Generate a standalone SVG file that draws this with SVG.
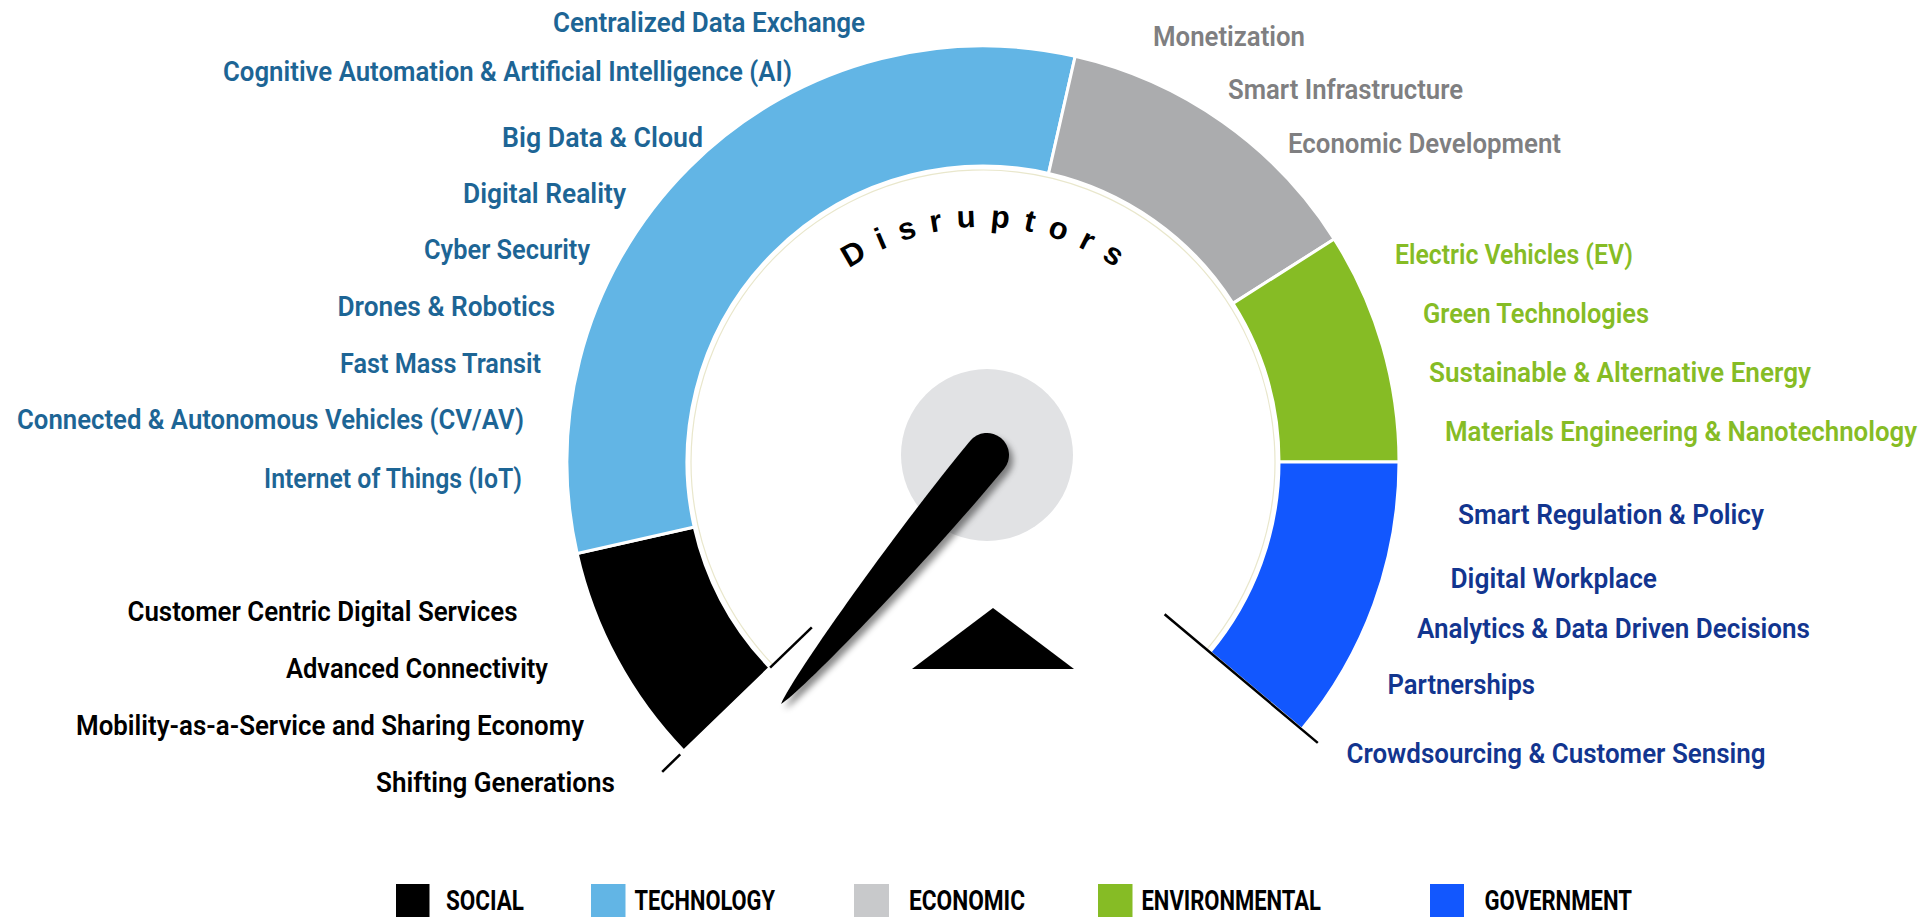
<svg xmlns="http://www.w3.org/2000/svg" width="1932" height="917" viewBox="0 0 1932 917">
  <style>
    .lbl { font-family: Roboto, "Liberation Sans", sans-serif; font-size: 28px; font-weight: 600; }
    .t-tech { fill: #1D6595; }
    .t-econ { fill: #7F7F81; }
    .t-env { fill: #86BC25; }
    .t-gov { fill: #12358F; }
    .t-soc { fill: #000000; }
    .seg { stroke: #ffffff; stroke-width: 3; stroke-linejoin: miter; }
    .tick { stroke: #000000; stroke-width: 2.5; fill: none; }
    .leg { font-family: Roboto, "Liberation Sans", sans-serif; font-size: 27px; font-weight: 700; fill: #000000; }
    .title { font-family: "Liberation Sans", Arial, sans-serif; font-size: 31px; font-weight: 700; fill: #000000; letter-spacing: 14px; }
  </style>
  <defs>
    <filter id="shadow" x="-30%" y="-30%" width="160%" height="160%">
      <feDropShadow dx="4" dy="5" stdDeviation="3" flood-color="#000000" flood-opacity="0.45"/>
    </filter>
    <path id="titleArc" d="M 748,462 A 235 235 0 0 1 1218,462"/>
  </defs>

  <rect x="0" y="0" width="1932" height="917" fill="#ffffff"/>

  <!-- Gauge ring -->
  <g id="gauge">
    <path id="seg-social" class="seg" fill="#000000" d="M 683.75,750.98 A 416 416 0 0 1 577.18,553.46 L 694.24,527.08 A 296 296 0 0 0 770.08,667.62 Z"/>
    <path id="seg-technology" class="seg" fill="#62B5E5" d="M 577.18,553.46 A 416 416 0 0 1 1075.16,56.34 L 1048.58,173.36 A 296 296 0 0 0 694.24,527.08 Z"/>
    <path id="seg-economic" class="seg" fill="#ABACAE" d="M 1075.16,56.34 A 416 416 0 0 1 1334.24,239.09 L 1232.92,303.39 A 296 296 0 0 0 1048.58,173.36 Z"/>
    <path id="seg-environmental" class="seg" fill="#86BC25" d="M 1334.24,239.09 A 416 416 0 0 1 1399,462 L 1279,462 A 296 296 0 0 0 1232.92,303.39 Z"/>
    <path id="seg-government" class="seg" fill="#1257FE" d="M 1399,462 A 416 416 0 0 1 1301.67,729.40 L 1209.75,652.27 A 296 296 0 0 0 1279,462 Z"/>
    <path d="M 772.95,664.84 A 292 292 0 1 1 1206.68,649.69" fill="none" stroke="#E9E7CC" stroke-width="1.2"/>
  </g>

  <!-- Tick lines -->
  <g id="connectors">
    <line class="tick" x1="770.1" y1="667.6" x2="811.8" y2="627.3"/>
    <line class="tick" x1="680.2" y1="754.4" x2="662.2" y2="771.8"/>
    <line class="tick" x1="1164.6" y1="614.3" x2="1317.8" y2="742.9"/>
  </g>

  <!-- Hub, pointer and needle -->
  <g id="hub">
    <circle cx="987" cy="455" r="86" fill="#E1E2E4"/>
  </g>
  <g id="pointer">
    <polygon points="993,608 912,669 1074,669" fill="#000000"/>
  </g>
  <g id="needle" filter="url(#shadow)">
    <path transform="translate(987,455) rotate(129.6)" fill="#000000" d="M 0,22 C 120,22 300,8 323,0 C 300,-8 120,-22 0,-22 A 22 22 0 0 0 0,22 Z"/>
  </g>

  <!-- Title on arc -->
  <g id="title">
    <text class="title" text-anchor="middle"><textPath href="#titleArc" startOffset="375">Disruptors</textPath></text>
  </g>

  <!-- Technology labels -->
  <g id="technology-labels" class="lbl t-tech">
    <text x="553" y="32" textLength="312" lengthAdjust="spacingAndGlyphs">Centralized Data Exchange</text>
    <text x="223" y="81" textLength="569" lengthAdjust="spacingAndGlyphs">Cognitive Automation &amp; Artificial Intelligence (AI)</text>
    <text x="502" y="147" textLength="201" lengthAdjust="spacingAndGlyphs">Big Data &amp; Cloud</text>
    <text x="463" y="203" textLength="163" lengthAdjust="spacingAndGlyphs">Digital Reality</text>
    <text x="424" y="259" textLength="166" lengthAdjust="spacingAndGlyphs">Cyber Security</text>
    <text x="337.5" y="316" textLength="217.5" lengthAdjust="spacingAndGlyphs">Drones &amp; Robotics</text>
    <text x="340" y="373" textLength="201" lengthAdjust="spacingAndGlyphs">Fast Mass Transit</text>
    <text x="17" y="429" textLength="507" lengthAdjust="spacingAndGlyphs">Connected &amp; Autonomous Vehicles (CV/AV)</text>
    <text x="264" y="488" textLength="258" lengthAdjust="spacingAndGlyphs">Internet of Things (IoT)</text>
  </g>

  <!-- Economic labels -->
  <g id="economic-labels" class="lbl t-econ">
    <text x="1153" y="46" textLength="152" lengthAdjust="spacingAndGlyphs">Monetization</text>
    <text x="1228" y="99" textLength="235" lengthAdjust="spacingAndGlyphs">Smart Infrastructure</text>
    <text x="1288" y="153" textLength="273" lengthAdjust="spacingAndGlyphs">Economic Development</text>
  </g>

  <!-- Environmental labels -->
  <g id="environmental-labels" class="lbl t-env">
    <text x="1395" y="264" textLength="238" lengthAdjust="spacingAndGlyphs">Electric Vehicles (EV)</text>
    <text x="1423" y="323" textLength="226" lengthAdjust="spacingAndGlyphs">Green Technologies</text>
    <text x="1429" y="382" textLength="382" lengthAdjust="spacingAndGlyphs">Sustainable &amp; Alternative Energy</text>
    <text transform="translate(1445,441) scale(0.88,1)" x="0" y="0" textLength="536.4" lengthAdjust="spacingAndGlyphs">Materials Engineering &amp; Nanotechnology</text>
  </g>

  <!-- Government labels -->
  <g id="government-labels" class="lbl t-gov">
    <text x="1458" y="524" textLength="306" lengthAdjust="spacingAndGlyphs">Smart Regulation &amp; Policy</text>
    <text x="1450.5" y="588" textLength="206.5" lengthAdjust="spacingAndGlyphs">Digital Workplace</text>
    <text x="1417" y="638" textLength="393" lengthAdjust="spacingAndGlyphs">Analytics &amp; Data Driven Decisions</text>
    <text x="1387.5" y="694" textLength="147.5" lengthAdjust="spacingAndGlyphs">Partnerships</text>
    <text x="1346.5" y="763" textLength="419" lengthAdjust="spacingAndGlyphs">Crowdsourcing &amp; Customer Sensing</text>
  </g>

  <!-- Social labels -->
  <g id="social-labels" class="lbl t-soc">
    <text x="127.5" y="621" textLength="390" lengthAdjust="spacingAndGlyphs">Customer Centric Digital Services</text>
    <text x="286" y="678" textLength="262" lengthAdjust="spacingAndGlyphs">Advanced Connectivity</text>
    <text x="76" y="735" textLength="508" lengthAdjust="spacingAndGlyphs">Mobility-as-a-Service and Sharing Economy</text>
    <text x="376" y="792" textLength="239" lengthAdjust="spacingAndGlyphs">Shifting Generations</text>
  </g>

  <!-- Legend -->
  <g id="legend">
    <g id="legend-social">
      <rect x="396" y="884" width="33.5" height="33" fill="#000000"/>
      <text class="leg" x="446" y="910" textLength="78" lengthAdjust="spacingAndGlyphs">SOCIAL</text>
    </g>
    <g id="legend-technology">
      <rect x="591" y="884" width="34.5" height="33" fill="#62B5E5"/>
      <text class="leg" x="634.5" y="910" textLength="140.5" lengthAdjust="spacingAndGlyphs">TECHNOLOGY</text>
    </g>
    <g id="legend-economic">
      <rect x="854" y="884" width="35" height="33" fill="#C8C9CB"/>
      <text class="leg" x="909" y="910" textLength="116" lengthAdjust="spacingAndGlyphs">ECONOMIC</text>
    </g>
    <g id="legend-environmental">
      <rect x="1098" y="884" width="34.5" height="33" fill="#86BC25"/>
      <text class="leg" x="1141.5" y="910" textLength="179.5" lengthAdjust="spacingAndGlyphs">ENVIRONMENTAL</text>
    </g>
    <g id="legend-government">
      <rect x="1430" y="884" width="34" height="33" fill="#1257FE"/>
      <text class="leg" x="1484.5" y="910" textLength="147.5" lengthAdjust="spacingAndGlyphs">GOVERNMENT</text>
    </g>
  </g>
</svg>
